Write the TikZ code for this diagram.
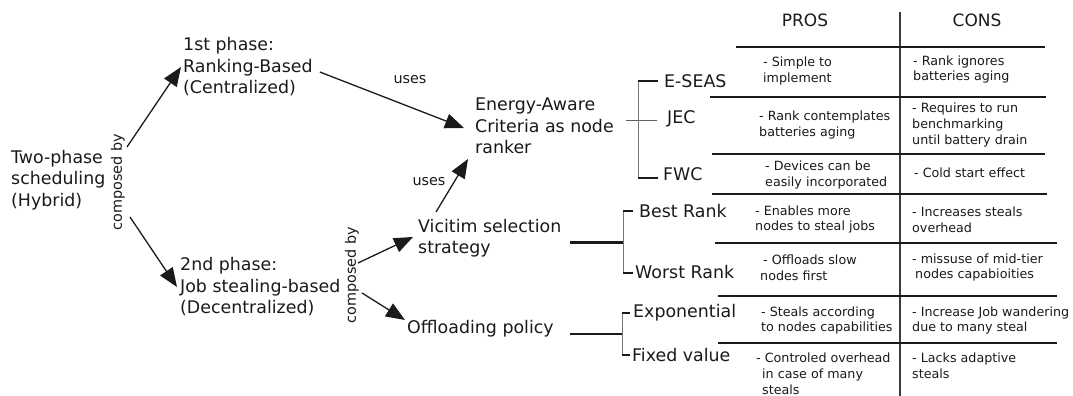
\documentclass[tikz,border=0pt]{standalone}
\usepackage{fontspec}
\setmainfont{DejaVu Sans}
\usetikzlibrary{arrows.meta,calc}
\definecolor{ink}{RGB}{26,26,26}
\begin{document}
\begin{tikzpicture}[x=1pt,y=-1pt,
  every node/.style={text=ink},
  big/.style={font=\fontsize{17.4}{21.5}\selectfont, inner sep=0pt, anchor=west, align=left},
  lab/.style={font=\fontsize{14.4}{17}\selectfont, inner sep=0pt},
  hdr/.style={font=\fontsize{17}{20}\selectfont, inner sep=0pt},
  cell/.style={font=\fontsize{12.7}{15.8}\selectfont, inner sep=0pt, anchor=west, align=left},
  arr/.style={draw=ink, line width=1.3pt, -{Triangle[length=19pt,width=15pt]}},
  tline/.style={draw=ink, line width=1.8pt},
  vline/.style={draw=ink!85, line width=1.3pt},
  tick/.style={draw=ink, line width=1.5pt},
  spine/.style={draw=ink!60, line width=1pt},
  mid/.style={draw=ink!70, line width=1pt},
  feed/.style={draw=ink, line width=3pt}]
\useasboundingbox (0,0) rectangle (1073,396);

% left tree
\node[big] (two) at (11,180) {Two-phase\\scheduling\\(Hybrid)};
\node[lab, rotate=90] (cb1) at (118,182) {composed by};
\node[big] (p1) at (183,67) {1st phase:\\Ranking-Based\\(Centralized)};
\node[big] (p2) at (180,287) {2nd phase:\\Job stealing-based\\(Decentralized)};
\node[lab, rotate=90] (cb2) at (352,275) {composed by};
\node[big] (ranker) at (475,126) {Energy-Aware\\Criteria as node\\ranker};
\node[big] (victim) at (418,238) {Vicitim selection\\strategy};
\node[big] (offload) at (407,329) {Offloading policy};
\node[lab] (uses1) at (410,80) {uses};
\node[lab] (uses2) at (429,182) {uses};

\draw[arr] ($(cb1.center)+(9,-35)$) -- ($(p1.west)+(-2,0)$);
\draw[arr] ($(cb1.center)+(12,35)$) -- ($(p2.west)+(-3,0)$);
\draw[arr] ($(p1.east)+(7,5)$) -- ($(ranker.west)+(-11,2)$);
\draw[arr] ($(victim.west)+(18,-26)$) -- ($(ranker.west)+(-7,33)$);
\draw[arr] ($(cb2.center)+(6,-12)$) -- ($(victim.west)+(-5,-1)$);
\draw[arr] ($(cb2.center)+(10,18)$) -- ($(offload.west)+(-2,-9)$);

% criteria labels
\node[big] (eseas) at (664,81) {E-SEAS};
\node[big] (jec) at (667,119) {JEC};
\node[big] (fwc) at (663,174) {FWC};
\node[big] (best) at (639,211) {Best Rank};
\node[big] (worst) at (635,272) {Worst Rank};
\node[big] (expo) at (633,313) {Exponential};
\node[big] (fixed) at (632,355) {Fixed value};

% brackets
\draw[mid] ($(ranker.east)+(12,-6)$) -- ($(jec.west)+(-10,1)$);
\draw[spine] ($(eseas.west)+(-26,0)$) -- ($(fwc.west)+(-25,4)$);
\draw[tick] ($(eseas.west)+(-6,0)$) -- ++(-20.5,0);
\draw[tick] ($(fwc.west)+(-5,4)$) -- ++(-20.5,0);
\draw[feed] ($(victim.east)+(8,4)$) -- ++(53,0);
\draw[spine] ($(best.west)+(-16,0)$) -- ($(worst.west)+(-12,1)$);
\draw[tick] ($(best.west)+(-6,0)$) -- ++(-10.5,0);
\draw[tick] ($(worst.west)+(-2,1)$) -- ++(-10.5,0);
\draw[feed, line width=2.6pt] ($(offload.east)+(16,5)$) -- ++(53,0);
\draw[spine] ($(expo.west)+(-11,0)$) -- ($(fixed.west)+(-10,0)$);
\draw[tick] ($(expo.west)+(-3,0)$) -- ++(-8.5,0);
\draw[tick] ($(fixed.west)+(-2,0)$) -- ++(-8.5,0);

% table
\node[hdr] (pros) at (805,20) {PROS};
\node[hdr] (cons) at (977,20) {CONS};
\draw[vline] (900,12) -- (900,396);
\draw[tline] (736,47) -- (1045,47);
\draw[tline] (710,97) -- (1046,97);
\draw[tline] (712,154) -- (1045,154);
\draw[tline, line width=2.2pt] (712,194) -- (1047,194);
\draw[tline] (715,243) -- (1057,243);
\draw[tline] (718,296) -- (1057,296);
\draw[tline] (718,343) -- (1057,343);

\node[cell] (pr1) at (763,71) {- Simple to\\implement};
\node[cell] (co1) at (913,69.5) {- Rank ignores\\batteries aging};
\node[cell] (pr2) at (759,125) {- Rank contemplates\\batteries aging};
\node[cell] (co2) at (912,125) {- Requires to run\\benchmarking\\until battery drain};
\node[cell] (pr3) at (765,175) {- Devices can be\\easily incorporated};
\node[cell] (co3) at (914,173) {- Cold start effect};
\node[cell] (pr4) at (755,219.5) {- Enables more\\nodes to steal jobs};
\node[cell] (co4) at (912,219.5) {- Increases steals\\overhead};
\node[cell] (pr5) at (760,267.5) {\hspace*{3pt}- Offloads slow\\nodes first};
\node[cell] (co5) at (912,267.5) {- missuse of mid-tier\\\hspace*{3pt}nodes capabioities};
\node[cell] (pr6) at (761,320.5) {- Steals according\\to nodes capabilities};
\node[cell] (co6) at (912,320.5) {- Increase Job wandering\\due to many steal};
\node[cell] (pr7) at (756,373.5) {- Controled overhead\\\hspace*{6pt}in case of many\\\hspace*{6pt}steals};
\node[cell] (co7) at (912,365.5) {- Lacks adaptive\\steals};
\end{tikzpicture}
\end{document}
